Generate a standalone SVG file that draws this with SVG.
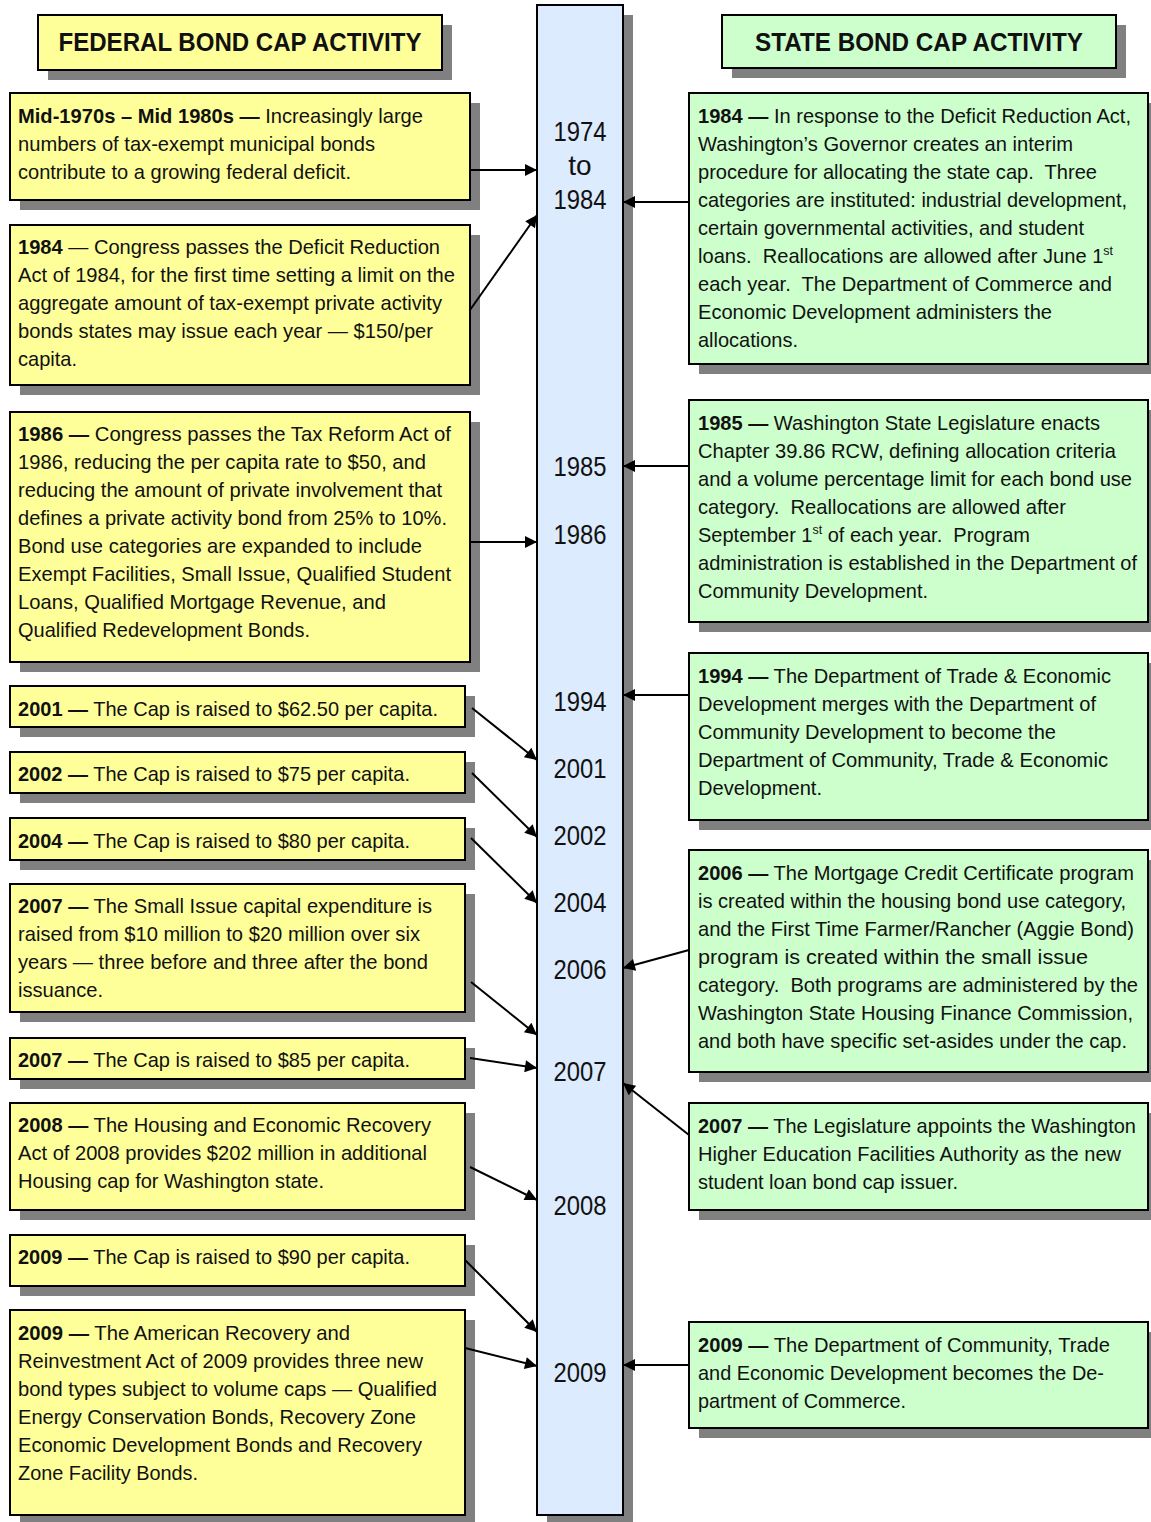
<svg xmlns="http://www.w3.org/2000/svg" width="1151" height="1522" viewBox="0 0 1151 1522">
<style>
.sh{fill:#808080}
.fed{fill:#FFFF99;stroke:#000;stroke-width:2}
.st{fill:#CCFFCC;stroke:#000;stroke-width:2}
.bar{fill:#DCEBFD;stroke:#000;stroke-width:2}
text{font-family:"Liberation Sans",Arial,sans-serif;fill:#111;white-space:pre}
.t{font-size:21px}
.b{font-weight:bold}
.h{font-size:26px;font-weight:bold;text-anchor:middle}
.yr{font-size:28px;text-anchor:middle}
.sup{font-size:13px}
#connectors line{stroke:#000;stroke-width:2;marker-end:url(#ah)}
</style>
<defs>
<marker id="ah" viewBox="0 0 10 10" refX="10" refY="5" markerWidth="14" markerHeight="12" markerUnits="userSpaceOnUse" orient="auto"><path d="M0,0 L10,5 L0,10 z" fill="#000"/></marker>
</defs>
<rect width="1151" height="1522" fill="#fff"/>

<g id="timeline">
<rect class="sh" x="547" y="15" width="86" height="1510"/>
<rect class="bar" x="537" y="5" width="86" height="1510"/>
<text class="yr" x="580" y="141" textLength="53" lengthAdjust="spacingAndGlyphs">1974</text>
<text class="yr" x="580" y="175">to</text>
<text class="yr" x="580" y="209" textLength="53" lengthAdjust="spacingAndGlyphs">1984</text>
<text class="yr" x="580" y="476" textLength="53" lengthAdjust="spacingAndGlyphs">1985</text>
<text class="yr" x="580" y="544" textLength="53" lengthAdjust="spacingAndGlyphs">1986</text>
<text class="yr" x="580" y="711" textLength="53" lengthAdjust="spacingAndGlyphs">1994</text>
<text class="yr" x="580" y="778" textLength="53" lengthAdjust="spacingAndGlyphs">2001</text>
<text class="yr" x="580" y="845" textLength="53" lengthAdjust="spacingAndGlyphs">2002</text>
<text class="yr" x="580" y="912" textLength="53" lengthAdjust="spacingAndGlyphs">2004</text>
<text class="yr" x="580" y="979" textLength="53" lengthAdjust="spacingAndGlyphs">2006</text>
<text class="yr" x="580" y="1081" textLength="53" lengthAdjust="spacingAndGlyphs">2007</text>
<text class="yr" x="580" y="1215" textLength="53" lengthAdjust="spacingAndGlyphs">2008</text>
<text class="yr" x="580" y="1382" textLength="53" lengthAdjust="spacingAndGlyphs">2009</text>
</g>

<g id="federal-header">
<rect class="sh" x="48" y="25" width="404" height="55"/>
<rect class="fed" x="38" y="15" width="404" height="55"/>
<text class="h" x="240" y="51" textLength="363" lengthAdjust="spacingAndGlyphs">FEDERAL BOND CAP ACTIVITY</text>
</g>

<g id="state-header">
<rect class="sh" x="732" y="25" width="394" height="53"/>
<rect class="st" x="722" y="15" width="394" height="53"/>
<text class="h" x="919" y="51" textLength="328" lengthAdjust="spacingAndGlyphs">STATE BOND CAP ACTIVITY</text>
</g>

<g id="fed-1970s">
<rect class="sh" x="20" y="103" width="460" height="107"/>
<rect class="fed" x="10" y="93" width="460" height="107"/>
<text class="t" x="18" y="123" textLength="405" lengthAdjust="spacingAndGlyphs"><tspan class="b">Mid-1970s – Mid 1980s —</tspan> Increasingly large</text>
<text class="t" x="18" y="151" textLength="357" lengthAdjust="spacingAndGlyphs">numbers of tax-exempt municipal bonds</text>
<text class="t" x="18" y="179" textLength="333" lengthAdjust="spacingAndGlyphs">contribute to a growing federal deficit.</text>
</g>

<g id="fed-1984">
<rect class="sh" x="20" y="235" width="460" height="160"/>
<rect class="fed" x="10" y="225" width="460" height="160"/>
<text class="t" x="18" y="254" textLength="422" lengthAdjust="spacingAndGlyphs"><tspan class="b">1984</tspan> — Congress passes the Deficit Reduction</text>
<text class="t" x="18" y="282" textLength="437" lengthAdjust="spacingAndGlyphs">Act of 1984, for the first time setting a limit on the</text>
<text class="t" x="18" y="310" textLength="424" lengthAdjust="spacingAndGlyphs">aggregate amount of tax-exempt private activity</text>
<text class="t" x="18" y="338" textLength="415" lengthAdjust="spacingAndGlyphs">bonds states may issue each year — $150/per</text>
<text class="t" x="18" y="366" textLength="59" lengthAdjust="spacingAndGlyphs">capita.</text>
</g>

<g id="fed-1986">
<rect class="sh" x="20" y="422" width="460" height="250"/>
<rect class="fed" x="10" y="412" width="460" height="250"/>
<text class="t" x="18" y="441" textLength="433" lengthAdjust="spacingAndGlyphs"><tspan class="b">1986 —</tspan> Congress passes the Tax Reform Act of</text>
<text class="t" x="18" y="469" textLength="408" lengthAdjust="spacingAndGlyphs">1986, reducing the per capita rate to $50, and</text>
<text class="t" x="18" y="497" textLength="424" lengthAdjust="spacingAndGlyphs">reducing the amount of private involvement that</text>
<text class="t" x="18" y="525" textLength="429" lengthAdjust="spacingAndGlyphs">defines a private activity bond from 25% to 10%.</text>
<text class="t" x="18" y="553" textLength="404" lengthAdjust="spacingAndGlyphs">Bond use categories are expanded to include</text>
<text class="t" x="18" y="581" textLength="433" lengthAdjust="spacingAndGlyphs">Exempt Facilities, Small Issue, Qualified Student</text>
<text class="t" x="18" y="609" textLength="368" lengthAdjust="spacingAndGlyphs">Loans, Qualified Mortgage Revenue, and</text>
<text class="t" x="18" y="637" textLength="292" lengthAdjust="spacingAndGlyphs">Qualified Redevelopment Bonds.</text>
</g>

<g id="fed-2001">
<rect class="sh" x="20" y="696" width="455" height="41"/>
<rect class="fed" x="10" y="686" width="455" height="41"/>
<text class="t" x="18" y="716" textLength="420" lengthAdjust="spacingAndGlyphs"><tspan class="b">2001 —</tspan> The Cap is raised to $62.50 per capita.</text>
</g>

<g id="fed-2002">
<rect class="sh" x="20" y="762" width="455" height="41"/>
<rect class="fed" x="10" y="752" width="455" height="41"/>
<text class="t" x="18" y="781" textLength="392" lengthAdjust="spacingAndGlyphs"><tspan class="b">2002 —</tspan> The Cap is raised to $75 per capita.</text>
</g>

<g id="fed-2004">
<rect class="sh" x="20" y="828" width="455" height="42"/>
<rect class="fed" x="10" y="818" width="455" height="42"/>
<text class="t" x="18" y="848" textLength="392" lengthAdjust="spacingAndGlyphs"><tspan class="b">2004 —</tspan> The Cap is raised to $80 per capita.</text>
</g>

<g id="fed-2007-small-issue">
<rect class="sh" x="20" y="894" width="455" height="128"/>
<rect class="fed" x="10" y="884" width="455" height="128"/>
<text class="t" x="18" y="913" textLength="414" lengthAdjust="spacingAndGlyphs"><tspan class="b">2007 —</tspan> The Small Issue capital expenditure is</text>
<text class="t" x="18" y="941" textLength="402" lengthAdjust="spacingAndGlyphs">raised from $10 million to $20 million over six</text>
<text class="t" x="18" y="969" textLength="410" lengthAdjust="spacingAndGlyphs">years — three before and three after the bond</text>
<text class="t" x="18" y="997" textLength="85" lengthAdjust="spacingAndGlyphs">issuance.</text>
</g>

<g id="fed-2007-cap">
<rect class="sh" x="20" y="1048" width="455" height="41"/>
<rect class="fed" x="10" y="1038" width="455" height="41"/>
<text class="t" x="18" y="1067" textLength="392" lengthAdjust="spacingAndGlyphs"><tspan class="b">2007 —</tspan> The Cap is raised to $85 per capita.</text>
</g>

<g id="fed-2008">
<rect class="sh" x="20" y="1113" width="455" height="107"/>
<rect class="fed" x="10" y="1103" width="455" height="107"/>
<text class="t" x="18" y="1132" textLength="413" lengthAdjust="spacingAndGlyphs"><tspan class="b">2008 —</tspan> The Housing and Economic Recovery</text>
<text class="t" x="18" y="1160" textLength="409" lengthAdjust="spacingAndGlyphs">Act of 2008 provides $202 million in additional</text>
<text class="t" x="18" y="1188" textLength="306" lengthAdjust="spacingAndGlyphs">Housing cap for Washington state.</text>
</g>

<g id="fed-2009-cap">
<rect class="sh" x="20" y="1245" width="455" height="51"/>
<rect class="fed" x="10" y="1235" width="455" height="51"/>
<text class="t" x="18" y="1264" textLength="392" lengthAdjust="spacingAndGlyphs"><tspan class="b">2009 —</tspan> The Cap is raised to $90 per capita.</text>
</g>

<g id="fed-2009-arra">
<rect class="sh" x="20" y="1320" width="455" height="205"/>
<rect class="fed" x="10" y="1310" width="455" height="205"/>
<text class="t" x="18" y="1340" textLength="332" lengthAdjust="spacingAndGlyphs"><tspan class="b">2009 —</tspan> The American Recovery and</text>
<text class="t" x="18" y="1368" textLength="405" lengthAdjust="spacingAndGlyphs">Reinvestment Act of 2009 provides three new</text>
<text class="t" x="18" y="1396" textLength="419" lengthAdjust="spacingAndGlyphs">bond types subject to volume caps — Qualified</text>
<text class="t" x="18" y="1424" textLength="398" lengthAdjust="spacingAndGlyphs">Energy Conservation Bonds, Recovery Zone</text>
<text class="t" x="18" y="1452" textLength="404" lengthAdjust="spacingAndGlyphs">Economic Development Bonds and Recovery</text>
<text class="t" x="18" y="1480" textLength="180" lengthAdjust="spacingAndGlyphs">Zone Facility Bonds.</text>
</g>

<g id="state-1984">
<rect class="sh" x="699" y="103" width="459" height="271"/>
<rect class="st" x="689" y="93" width="459" height="271"/>
<text class="t" x="698" y="123" textLength="433" lengthAdjust="spacingAndGlyphs"><tspan class="b">1984 —</tspan> In response to the Deficit Reduction Act,</text>
<text class="t" x="698" y="151" textLength="375" lengthAdjust="spacingAndGlyphs">Washington’s Governor creates an interim</text>
<text class="t" x="698" y="179" textLength="399" lengthAdjust="spacingAndGlyphs">procedure for allocating the state cap.  Three</text>
<text class="t" x="698" y="207" textLength="429" lengthAdjust="spacingAndGlyphs">categories are instituted: industrial development,</text>
<text class="t" x="698" y="235" textLength="386" lengthAdjust="spacingAndGlyphs">certain governmental activities, and student</text>
<text class="t" x="698" y="263" textLength="415" lengthAdjust="spacingAndGlyphs">loans.  Reallocations are allowed after June 1<tspan class="sup" dy="-8">st</tspan></text>
<text class="t" x="698" y="291" textLength="414" lengthAdjust="spacingAndGlyphs">each year.  The Department of Commerce and</text>
<text class="t" x="698" y="319" textLength="354" lengthAdjust="spacingAndGlyphs">Economic Development administers the</text>
<text class="t" x="698" y="347" textLength="100" lengthAdjust="spacingAndGlyphs">allocations.</text>
</g>

<g id="state-1985">
<rect class="sh" x="699" y="410" width="459" height="222"/>
<rect class="st" x="689" y="400" width="459" height="222"/>
<text class="t" x="698" y="430" textLength="402" lengthAdjust="spacingAndGlyphs"><tspan class="b">1985 —</tspan> Washington State Legislature enacts</text>
<text class="t" x="698" y="458" textLength="418" lengthAdjust="spacingAndGlyphs">Chapter 39.86 RCW, defining allocation criteria</text>
<text class="t" x="698" y="486" textLength="434" lengthAdjust="spacingAndGlyphs">and a volume percentage limit for each bond use</text>
<text class="t" x="698" y="514" textLength="368" lengthAdjust="spacingAndGlyphs">category.  Reallocations are allowed after</text>
<text class="t" x="698" y="542" textLength="332" lengthAdjust="spacingAndGlyphs">September 1<tspan class="sup" dy="-8">st</tspan><tspan dy="8"> of each year.  Program</tspan></text>
<text class="t" x="698" y="570" textLength="439" lengthAdjust="spacingAndGlyphs">administration is established in the Department of</text>
<text class="t" x="698" y="598" textLength="230" lengthAdjust="spacingAndGlyphs">Community Development.</text>
</g>

<g id="state-1994">
<rect class="sh" x="699" y="663" width="459" height="167"/>
<rect class="st" x="689" y="653" width="459" height="167"/>
<text class="t" x="698" y="683" textLength="413" lengthAdjust="spacingAndGlyphs"><tspan class="b">1994 —</tspan> The Department of Trade &amp; Economic</text>
<text class="t" x="698" y="711" textLength="398" lengthAdjust="spacingAndGlyphs">Development merges with the Department of</text>
<text class="t" x="698" y="739" textLength="358" lengthAdjust="spacingAndGlyphs">Community Development to become the</text>
<text class="t" x="698" y="767" textLength="410" lengthAdjust="spacingAndGlyphs">Department of Community, Trade &amp; Economic</text>
<text class="t" x="698" y="795" textLength="124" lengthAdjust="spacingAndGlyphs">Development.</text>
</g>

<g id="state-2006">
<rect class="sh" x="699" y="860" width="459" height="222"/>
<rect class="st" x="689" y="850" width="459" height="222"/>
<text class="t" x="698" y="880" textLength="436" lengthAdjust="spacingAndGlyphs"><tspan class="b">2006 —</tspan> The Mortgage Credit Certificate program</text>
<text class="t" x="698" y="908" textLength="428" lengthAdjust="spacingAndGlyphs">is created within the housing bond use category,</text>
<text class="t" x="698" y="936" textLength="436" lengthAdjust="spacingAndGlyphs">and the First Time Farmer/Rancher (Aggie Bond)</text>
<text class="t" x="698" y="964" textLength="390" lengthAdjust="spacingAndGlyphs">program is created within the small issue</text>
<text class="t" x="698" y="992" textLength="440" lengthAdjust="spacingAndGlyphs">category.  Both programs are administered by the</text>
<text class="t" x="698" y="1020" textLength="435" lengthAdjust="spacingAndGlyphs">Washington State Housing Finance Commission,</text>
<text class="t" x="698" y="1048" textLength="429" lengthAdjust="spacingAndGlyphs">and both have specific set-asides under the cap.</text>
</g>

<g id="state-2007">
<rect class="sh" x="699" y="1113" width="459" height="107"/>
<rect class="st" x="689" y="1103" width="459" height="107"/>
<text class="t" x="698" y="1133" textLength="438" lengthAdjust="spacingAndGlyphs"><tspan class="b">2007 —</tspan> The Legislature appoints the Washington</text>
<text class="t" x="698" y="1161" textLength="423" lengthAdjust="spacingAndGlyphs">Higher Education Facilities Authority as the new</text>
<text class="t" x="698" y="1189" textLength="260" lengthAdjust="spacingAndGlyphs">student loan bond cap issuer.</text>
</g>

<g id="state-2009">
<rect class="sh" x="699" y="1332" width="459" height="106"/>
<rect class="st" x="689" y="1322" width="459" height="106"/>
<text class="t" x="698" y="1352" textLength="412" lengthAdjust="spacingAndGlyphs"><tspan class="b">2009 —</tspan> The Department of Community, Trade</text>
<text class="t" x="698" y="1380" textLength="406" lengthAdjust="spacingAndGlyphs">and Economic Development becomes the De-</text>
<text class="t" x="698" y="1408" textLength="208" lengthAdjust="spacingAndGlyphs">partment of Commerce.</text>
</g>

<g id="connectors">
<line x1="470" y1="170" x2="537" y2="170"/>
<line x1="470" y1="310" x2="537" y2="215"/>
<line x1="470" y1="542" x2="537" y2="542"/>
<line x1="472" y1="708" x2="537" y2="760"/>
<line x1="472" y1="773" x2="537" y2="837"/>
<line x1="471" y1="838" x2="537" y2="903"/>
<line x1="471" y1="982" x2="537" y2="1035"/>
<line x1="470" y1="1058" x2="537" y2="1068"/>
<line x1="470" y1="1167" x2="537" y2="1200"/>
<line x1="465" y1="1260" x2="537" y2="1332"/>
<line x1="465" y1="1348" x2="537" y2="1366"/>
<line x1="689" y1="202" x2="623" y2="202"/>
<line x1="689" y1="466" x2="623" y2="466"/>
<line x1="689" y1="695" x2="623" y2="695"/>
<line x1="689" y1="950" x2="623" y2="968"/>
<line x1="689" y1="1135" x2="623" y2="1083"/>
<line x1="689" y1="1365" x2="623" y2="1365"/>
</g>
</svg>
